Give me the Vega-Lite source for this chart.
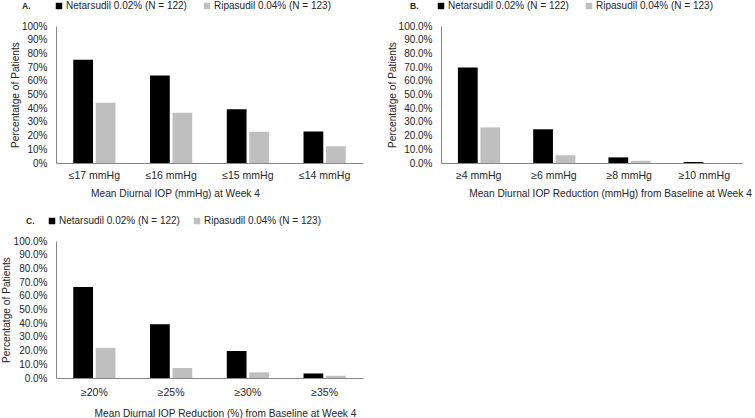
{
  "$schema": "https://vega.github.io/schema/vega-lite/v6.json",
  "padding": {"left": 1, "top": 1, "right": 0, "bottom": 0},
  "background": "white",
  "config": {
    "font": "Liberation Sans",
    "view": {"stroke": null},
    "axis": {
      "labelFont": "Liberation Sans",
      "labelFontSize": 10,
      "labelColor": "#262626",
      "titleFont": "Liberation Sans",
      "titleFontSize": 10.2,
      "titleFontWeight": "normal",
      "titleColor": "#262626",
      "domainColor": "#868686",
      "domainWidth": 1,
      "ticks": false,
      "grid": false
    },
    "axisX": {"labelFontSize": 10.5},
    "legend": {
      "labelFont": "Liberation Sans",
      "labelFontSize": 10,
      "labelColor": "#262626",
      "titleFont": "Liberation Sans",
      "titleFontSize": 8.5,
      "titleFontWeight": "bold",
      "titleColor": "#262626",
      "symbolType": "square",
      "symbolSize": 42,
      "symbolStrokeWidth": 0
    }
  },
  "data": {
    "values": [
      {"panel": "A", "cat": "≤17 mmHg", "drug": "Netarsudil 0.02% (N = 122)", "pct": 0.754},
      {"panel": "A", "cat": "≤17 mmHg", "drug": "Ripasudil 0.04% (N = 123)", "pct": 0.439},
      {"panel": "A", "cat": "≤16 mmHg", "drug": "Netarsudil 0.02% (N = 122)", "pct": 0.639},
      {"panel": "A", "cat": "≤16 mmHg", "drug": "Ripasudil 0.04% (N = 123)", "pct": 0.366},
      {"panel": "A", "cat": "≤15 mmHg", "drug": "Netarsudil 0.02% (N = 122)", "pct": 0.393},
      {"panel": "A", "cat": "≤15 mmHg", "drug": "Ripasudil 0.04% (N = 123)", "pct": 0.228},
      {"panel": "A", "cat": "≤14 mmHg", "drug": "Netarsudil 0.02% (N = 122)", "pct": 0.230},
      {"panel": "A", "cat": "≤14 mmHg", "drug": "Ripasudil 0.04% (N = 123)", "pct": 0.122},
      {"panel": "B", "cat": "≥4 mmHg", "drug": "Netarsudil 0.02% (N = 122)", "pct": 0.697},
      {"panel": "B", "cat": "≥4 mmHg", "drug": "Ripasudil 0.04% (N = 123)", "pct": 0.260},
      {"panel": "B", "cat": "≥6 mmHg", "drug": "Netarsudil 0.02% (N = 122)", "pct": 0.246},
      {"panel": "B", "cat": "≥6 mmHg", "drug": "Ripasudil 0.04% (N = 123)", "pct": 0.057},
      {"panel": "B", "cat": "≥8 mmHg", "drug": "Netarsudil 0.02% (N = 122)", "pct": 0.041},
      {"panel": "B", "cat": "≥8 mmHg", "drug": "Ripasudil 0.04% (N = 123)", "pct": 0.016},
      {"panel": "B", "cat": "≥10 mmHg", "drug": "Netarsudil 0.02% (N = 122)", "pct": 0.008},
      {"panel": "B", "cat": "≥10 mmHg", "drug": "Ripasudil 0.04% (N = 123)", "pct": 0.0},
      {"panel": "C", "cat": "≥20%", "drug": "Netarsudil 0.02% (N = 122)", "pct": 0.664},
      {"panel": "C", "cat": "≥20%", "drug": "Ripasudil 0.04% (N = 123)", "pct": 0.220},
      {"panel": "C", "cat": "≥25%", "drug": "Netarsudil 0.02% (N = 122)", "pct": 0.393},
      {"panel": "C", "cat": "≥25%", "drug": "Ripasudil 0.04% (N = 123)", "pct": 0.073},
      {"panel": "C", "cat": "≥30%", "drug": "Netarsudil 0.02% (N = 122)", "pct": 0.197},
      {"panel": "C", "cat": "≥30%", "drug": "Ripasudil 0.04% (N = 123)", "pct": 0.041},
      {"panel": "C", "cat": "≥35%", "drug": "Netarsudil 0.02% (N = 122)", "pct": 0.033},
      {"panel": "C", "cat": "≥35%", "drug": "Ripasudil 0.04% (N = 123)", "pct": 0.016}
    ]
  },
  "resolve": {"legend": {"color": "independent"}},
  "spacing": 17,
  "vconcat": [
    {
      "spacing": 24,
      "resolve": {"legend": {"color": "independent"}},
      "hconcat": [
        {
          "width": 307,
          "height": 137,
          "transform": [{"filter": "datum.panel == 'A'"}],
          "mark": {"type": "bar"},
          "encoding": {
            "x": {"field": "cat", "type": "nominal", "sort": null,
              "scale": {"paddingInner": 0.45, "paddingOuter": 0.225},
              "axis": {"title": "Mean Diurnal IOP (mmHg) at Week 4", "labelAngle": 0, "labelPadding": 7, "titlePadding": 8, "titleX": 119, "titleAlign": "center"}},
            "xOffset": {"field": "drug", "type": "nominal", "sort": null, "scale": {"paddingInner": 0.12}},
            "y": {"field": "pct", "type": "quantitative", "scale": {"domain": [0, 1]},
              "axis": {"title": "Percentatge of Patients", "format": ".0%", "values": [0, 0.1, 0.2, 0.3, 0.4, 0.5, 0.6, 0.7, 0.8, 0.9, 1], "labelPadding": 9, "titlePadding": 1}},
            "color": {"field": "drug", "type": "nominal", "sort": null,
              "scale": {"range": ["#000000", "#bfbfbf"]},
              "legend": {"title": "A.", "orient": "none", "legendX": -34, "legendY": -25, "direction": "horizontal", "titleOrient": "left", "titlePadding": 23, "columnPadding": 15, "labelOffset": 2}}
          }
        },
        {
          "width": 301,
          "height": 137,
          "transform": [{"filter": "datum.panel == 'B'"}],
          "mark": {"type": "bar"},
          "encoding": {
            "x": {"field": "cat", "type": "nominal", "sort": null,
              "scale": {"paddingInner": 0.45, "paddingOuter": 0.225},
              "axis": {"title": "Mean Diurnal IOP Reduction (mmHg) from Baseline at Week 4", "labelAngle": 0, "labelPadding": 7, "titlePadding": 8, "titleX": 169, "titleAlign": "center"}},
            "xOffset": {"field": "drug", "type": "nominal", "sort": null, "scale": {"paddingInner": 0.12}},
            "y": {"field": "pct", "type": "quantitative", "scale": {"domain": [0, 1]},
              "axis": {"title": "Percentatge of Patients", "format": ".1%", "values": [0, 0.1, 0.2, 0.3, 0.4, 0.5, 0.6, 0.7, 0.8, 0.9, 1], "labelPadding": 9, "titlePadding": 1}},
            "color": {"field": "drug", "type": "nominal", "sort": null,
              "scale": {"range": ["#000000", "#bfbfbf"]},
              "legend": {"title": "B.", "orient": "none", "legendX": -31, "legendY": -25, "direction": "horizontal", "titleOrient": "left", "titlePadding": 17, "columnPadding": 15, "labelOffset": 2}}
          }
        }
      ]
    },
    {
      "width": 307,
      "height": 137,
      "transform": [{"filter": "datum.panel == 'C'"}],
      "mark": {"type": "bar"},
      "encoding": {
        "x": {"field": "cat", "type": "nominal", "sort": null,
          "scale": {"paddingInner": 0.45, "paddingOuter": 0.225},
          "axis": {"title": "Mean Diurnal IOP Reduction (%) from Baseline at Week 4", "labelAngle": 0, "labelPadding": 9, "titlePadding": 11, "titleX": 169, "titleAlign": "center"}},
        "xOffset": {"field": "drug", "type": "nominal", "sort": null, "scale": {"paddingInner": 0.12}},
        "y": {"field": "pct", "type": "quantitative", "scale": {"domain": [0, 1]},
          "axis": {"title": "Percentatge of Patients", "format": ".1%", "values": [0, 0.1, 0.2, 0.3, 0.4, 0.5, 0.6, 0.7, 0.8, 0.9, 1], "labelPadding": 9, "titlePadding": 2}},
        "color": {"field": "drug", "type": "nominal", "sort": null,
          "scale": {"range": ["#000000", "#bfbfbf"]},
          "legend": {"title": "C.", "orient": "none", "legendX": -30, "legendY": -25, "direction": "horizontal", "titleOrient": "left", "titlePadding": 12, "columnPadding": 12, "labelOffset": 2}}
      }
    }
  ]
}
